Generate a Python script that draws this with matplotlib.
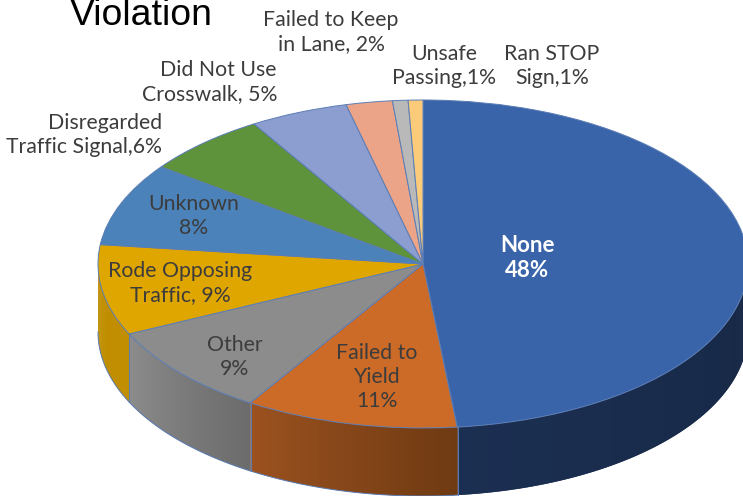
"""3D style pie chart of violations, drawn from an extruded elliptical pie."""

import matplotlib
matplotlib.use("Agg")
import matplotlib.pyplot as plt
import numpy as np
from matplotlib.colors import to_rgb

W, H = 743, 496
CX, CY = 423, 264      # pie centre, pixels
RX, RY = 325, 164      # ellipse radii, pixels
DEPTH = 68             # wall height, pixels

categories = ["None", "Failed to Yield", "Other", "Rode Opposing Traffic", "Unknown",
              "Disregarded Traffic Signal", "Did Not Use Crosswalk",
              "Failed to Keep in Lane", "Unsafe Passing", "Ran STOP Sign"]
# slightly finer than the printed percentages
values = [48.3, 10.6, 9.05, 8.9, 8.2, 6.2, 4.9, 2.3, 0.77, 0.73]
top_colors = ["#3A64A9", "#CC6A27", "#8C8C8C", "#E0A600", "#4A82B9",
              "#5E933B", "#8C9DD0", "#EBA487", "#B9B9B9", "#FBCB79"]
# wall colours at the start and end of each slice (clockwise)
wall_start = ["#172845", "#6F3A12", "#6C6C6C", "#C08E00", "#3A6690",
              "#4A732E", "#6E7BA3", "#B8806A", "#909090", "#C49F5E"]
wall_end = ["#1B2F52", "#9C5220", "#8C8C8C", "#C08E00", "#3A6690",
            "#4A732E", "#6E7BA3", "#B8806A", "#909090", "#C49F5E"]

EDGE = "#5B7DB5"
TEXT = "#3C3C3C"

# (text, centre x, centre y, alignment) in pixels
labels = [
    ("Failed to Keep\nin Lane, 2%", 331, 32, "center"),
    ("Unsafe\nPassing,1%", 444, 66, "center"),
    ("Ran STOP\nSign,1%", 552, 66, "center"),
    ("Did Not Use\nCrosswalk, 5%", 277, 82, "right"),
    ("Disregarded\nTraffic Signal,6%", 162, 135, "right"),
    ("Unknown\n8%", 194, 216, "center"),
    ("Rode Opposing\nTraffic, 9%", 180, 283, "center"),
    ("Other\n9%", 235, 357, "center"),
    ("Failed to\nYield\n11%", 377, 377, "center"),
]


def draw_walls(ax):
    depth = DEPTH / RY
    edges = 90 - np.cumsum([0] + values) * 3.6
    for i in range(len(values)):
        t1, t0 = edges[i] % 360, edges[i + 1] % 360
        if t1 <= t0:
            t1 += 360
        # visible wall is the front half, 180..360 degrees
        lo, hi = max(t0, 180), min(t1, 360)
        if hi <= lo:
            continue
        steps = np.linspace(hi, lo, max(int((hi - lo) * 2), 2) + 1)
        c0, c1 = np.array(to_rgb(wall_start[i])), np.array(to_rgb(wall_end[i]))
        for j in range(len(steps) - 1):
            # each strip runs one step past its end so no seams show
            tt = np.radians(np.linspace(steps[j], steps[min(j + 2, len(steps) - 1)], 4))
            col = c0 + (c1 - c0) * j / (len(steps) - 1)
            xs = np.r_[np.cos(tt), np.cos(tt[::-1])]
            ys = np.r_[np.sin(tt), np.sin(tt[::-1]) - depth]
            ax.fill(xs, ys, color=col, lw=0, zorder=1)
        if i != 0:
            tt = np.radians(np.linspace(hi, lo, 120))
            ax.plot(np.cos(tt), np.sin(tt) - depth, color=EDGE, lw=0.7, zorder=2)
        for t in (lo, hi):
            if t in (180, 360):
                continue
            r = np.radians(t)
            ax.plot([np.cos(r)] * 2, [np.sin(r), np.sin(r) - depth],
                    color=EDGE, lw=0.7, alpha=0.8, zorder=2)


def main():
    fig = plt.figure(figsize=(W / 100, H / 100), dpi=100)
    ax = fig.add_axes([0, 0, 1, 1])

    draw_walls(ax)
    wedges, _ = ax.pie(values, colors=top_colors, startangle=90, counterclock=False,
                       wedgeprops={"edgecolor": EDGE, "linewidth": 0.7})
    for w in wedges:
        w.set_zorder(3)

    ax.set_aspect("auto")
    ax.set_xlim(-CX / RX, (W - CX) / RX)
    ax.set_ylim((CY - H) / RY, CY / RY)
    ax.axis("off")

    font = ["Lato", "DejaVu Sans"]
    for text, x, y, ha in labels:
        fig.text(x / W, 1 - y / H, text, ha=ha, va="center", multialignment=ha,
                 color=TEXT, fontsize=15.3, family=font, linespacing=1.25, zorder=5)
    fig.text(527 / W, 1 - 258 / H, "None\n48%", ha="center", va="center", color="white",
             fontsize=16, fontweight="bold", family=font, linespacing=1.25, zorder=5)
    # the title sits right against the top edge, as in the reference
    fig.text(70 / W, 1 - 25 / H, "Violation", ha="left", va="baseline", color="black",
             fontsize=26.9, family="Liberation Sans", zorder=5)

    fig.savefig("out.png", dpi=100)


if __name__ == "__main__":
    main()
